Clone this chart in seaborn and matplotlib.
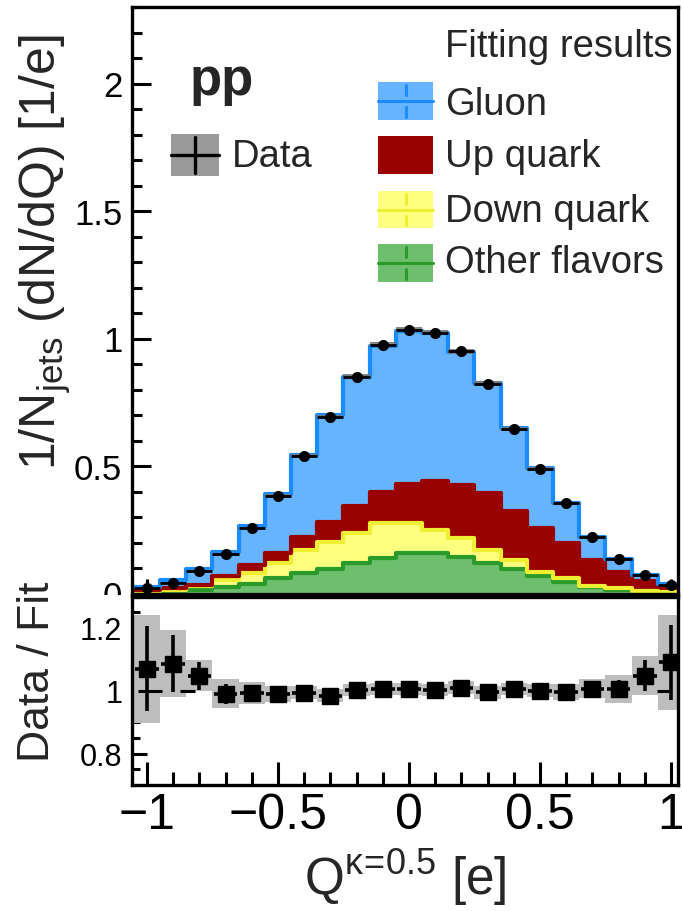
import numpy as np
import pandas as pd
import seaborn as sns
import matplotlib
matplotlib.use("Agg")
import matplotlib.pyplot as plt
from matplotlib.ticker import MultipleLocator, FuncFormatter
from matplotlib.patches import Rectangle
from matplotlib.transforms import Bbox, TransformedBbox

# ---------------- data ----------------
q_centers = [-1.0, -0.9, -0.8, -0.7, -0.6, -0.5, -0.4, -0.3, -0.2, -0.1, 0.0,
             0.1, 0.2, 0.3, 0.4, 0.5, 0.6, 0.7, 0.8, 0.9, 1.0]
bin_edges = [-1.05, -0.95, -0.85, -0.75, -0.65, -0.55, -0.45, -0.35, -0.25, -0.15, -0.05,
             0.05, 0.15, 0.25, 0.35, 0.45, 0.55, 0.65, 0.75, 0.85, 0.95, 1.05]

gluon = [0.012, 0.031, 0.063, 0.096, 0.154, 0.231, 0.321, 0.419, 0.508, 0.571, 0.600,
         0.582, 0.521, 0.432, 0.326, 0.235, 0.159, 0.092, 0.050, 0.023, 0.014]
up_quark = [0.004, 0.005, 0.007, 0.016, 0.030, 0.041, 0.053, 0.079, 0.106, 0.124, 0.154,
            0.193, 0.209, 0.225, 0.194, 0.173, 0.138, 0.099, 0.064, 0.038, 0.019]
down_quark = [0.003, 0.005, 0.016, 0.026, 0.041, 0.059, 0.090, 0.104, 0.118, 0.134, 0.115,
              0.091, 0.073, 0.051, 0.032, 0.017, 0.014, 0.006, 0.005, 0.002, 0.001]
other_flavors = [0.005, 0.010, 0.012, 0.025, 0.039, 0.059, 0.079, 0.098, 0.118, 0.141, 0.160,
                 0.157, 0.143, 0.118, 0.098, 0.067, 0.045, 0.025, 0.015, 0.008, 0.005]

data_vals = [0.020, 0.043, 0.090, 0.153, 0.256, 0.382, 0.540, 0.692, 0.850, 0.976, 1.035,
             1.023, 0.950, 0.823, 0.646, 0.488, 0.354, 0.220, 0.134, 0.071, 0.035]
data_stat = [0.002, 0.002, 0.002, 0.002, 0.002, 0.002, 0.002, 0.002, 0.002, 0.002, 0.002,
             0.002, 0.002, 0.002, 0.002, 0.002, 0.002, 0.002, 0.002, 0.002, 0.002]
data_syst = [0.002, 0.003, 0.004, 0.005, 0.006, 0.007, 0.008, 0.009, 0.010, 0.010, 0.010,
             0.010, 0.010, 0.009, 0.008, 0.007, 0.006, 0.005, 0.004, 0.003, 0.002]

ratio_vals = [1.070, 1.086, 1.048, 0.990, 0.994, 0.990, 0.994, 0.984, 1.003, 1.006, 1.006,
              1.003, 1.010, 0.995, 1.006, 1.000, 0.995, 1.006, 1.006, 1.048, 1.090]
ratio_stat = [0.135, 0.090, 0.045, 0.033, 0.020, 0.015, 0.012, 0.010, 0.010, 0.010, 0.010,
              0.010, 0.010, 0.010, 0.012, 0.015, 0.018, 0.020, 0.028, 0.050, 0.120]
ratio_syst = [0.172, 0.107, 0.050, 0.046, 0.035, 0.025, 0.020, 0.020, 0.020, 0.020, 0.020,
              0.020, 0.020, 0.020, 0.020, 0.020, 0.025, 0.030, 0.045, 0.063, 0.150]
unity_seg_lo = [-1.035, -0.874, 0.947]
unity_seg_hi = [-0.943, -0.817, 0.992]

flavors = ["Gluon", "Up quark", "Down quark", "Other flavors"]
fill_colors = {"Gluon": "#66b3ff", "Up quark": "#990000",
               "Down quark": "#ffff80", "Other flavors": "#6dbf6d"}
line_colors = {"Gluon": "#1a8cff", "Up quark": "#990000",
               "Down quark": "#eeee33", "Other flavors": "#2a9a2a"}

df = pd.DataFrame({
    "Q": q_centers * 4,
    "value": gluon + up_quark + down_quark + other_flavors,
    "flavor": sum([[f] * len(q_centers) for f in flavors], []),
})

q = np.array(q_centers)
dv = np.array(data_vals)
rv = np.array(ratio_vals)

# ---------------- style ----------------
sns.set_theme(style="ticks")
plt.rcParams["font.family"] = ["Liberation Sans", "DejaVu Sans"]
plt.rcParams["mathtext.fontset"] = "custom"
plt.rcParams["mathtext.rm"] = "Liberation Sans"
plt.rcParams["mathtext.it"] = "Liberation Sans:italic"
plt.rcParams["mathtext.bf"] = "Liberation Sans:bold"
plt.rcParams["axes.edgecolor"] = "black"
plt.rcParams["xtick.color"] = "black"
plt.rcParams["ytick.color"] = "black"

W, H = 682, 912
fig = plt.figure(figsize=(W / 100, H / 100), dpi=100)

def fbox(x0, y0, x1, y1):
    return [x0 / W, 1 - y1 / H, (x1 - x0) / W, (y1 - y0) / H]

ax = fig.add_axes(fbox(132, 8, 678, 594.5))
ax2 = fig.add_axes(fbox(132, 597.5, 678, 786))

# ---------------- main panel ----------------
sns.histplot(data=df, x="Q", weights="value", hue="flavor", hue_order=flavors,
             multiple="stack", bins=bin_edges, element="step", fill=True,
             alpha=1, linewidth=0, palette=fill_colors, legend=False, ax=ax)
sns.histplot(data=df, x="Q", weights="value", hue="flavor", hue_order=flavors,
             multiple="stack", bins=bin_edges, element="step", fill=False,
             linewidth=3.0, palette=line_colors, legend=False, ax=ax)

ax.bar(q, 2 * np.array(data_syst), bottom=dv - np.array(data_syst), width=0.1,
       color="#7a7a7a", alpha=0.9, linewidth=0, zorder=4)
ax.errorbar(q, dv, xerr=0.05, yerr=data_stat, fmt="o", ms=7, color="black",
            elinewidth=2.0, capsize=0, zorder=5)

ax.set_xlim(-1.057, 1.027)
ax.set_ylim(0, 2.3)
ax.set_xlabel("")
ax.set_ylabel("")

fmt = FuncFormatter(lambda v, p: ("%g" % round(v, 3)).replace("-", "\u2212"))

ax.xaxis.set_major_locator(MultipleLocator(0.5))
ax.xaxis.set_minor_locator(MultipleLocator(0.1))
ax.yaxis.set_major_locator(MultipleLocator(0.5))
ax.yaxis.set_minor_locator(MultipleLocator(0.1))
ax.yaxis.set_major_formatter(fmt)
ax.tick_params(axis="both", which="both", direction="in", top=False, right=False,
               width=2.2)
ax.tick_params(axis="x", which="major", length=11, labelbottom=False)
ax.tick_params(axis="x", which="minor", length=6)
ax.tick_params(axis="y", which="major", length=14, labelsize=25, pad=7)
ax.tick_params(axis="y", which="minor", length=7)

# ---------------- ratio panel ----------------
ax2.bar(q, 2 * np.array(ratio_syst), bottom=rv - np.array(ratio_syst), width=0.1,
        color="#bdbdbd", linewidth=0, zorder=1)
ax2.hlines(np.ones(len(unity_seg_lo)), unity_seg_lo, unity_seg_hi, color="black",
           lw=2.2, zorder=2)
ax2.errorbar(q, rv, xerr=0.045, yerr=ratio_stat, fmt="s", ms=11.5, color="black",
             elinewidth=2.6, capsize=0, zorder=3)
ax2.set_xlim(-1.057, 1.027)
ax2.set_ylim(0.7, 1.3)
ax2.xaxis.set_major_locator(MultipleLocator(0.5))
ax2.xaxis.set_minor_locator(MultipleLocator(0.1))
ax2.yaxis.set_major_locator(MultipleLocator(0.2))
ax2.yaxis.set_minor_locator(MultipleLocator(0.05))
ax2.xaxis.set_major_formatter(fmt)
ax2.yaxis.set_major_formatter(fmt)
ax2.tick_params(axis="both", which="both", direction="in", top=False, right=False,
                width=2.2)
ax2.tick_params(axis="x", which="major", length=16.5, labelsize=36, pad=5)
ax2.tick_params(axis="x", which="minor", length=9.5)
ax2.tick_params(axis="y", which="major", length=11, labelsize=22, pad=7)
ax2.tick_params(axis="y", which="minor", length=6)

for a in (ax, ax2):
    for s in a.spines.values():
        s.set_linewidth(2.4)
        s.set_color("black")
    a.grid(False)

# ---------------- texts ----------------
fig.text(45 / W, 1 - 35 / H, r"1/N$_{\mathregular{jets}}$ (dN/dQ) [1/e]",
         rotation=90, ha="center", va="top", fontsize=36)
fig.text(38 / W, 1 - 582 / H, "Data / Fit", rotation=90, ha="center", va="top",
         fontsize=32)
fig.text(405 / W, 1 - 908 / H,
         "Q$^{\\mathregular{\u03ba\\!=\\!0.5}}$ [e]",
         ha="center", va="bottom", fontsize=37)

# legend / annotations on an overlay in pixel units
ov = fig.add_axes([0, 0, 1, 1], zorder=10)
ov.set_xlim(0, W)
ov.set_ylim(H, 0)
ov.axis("off")
ov.patch.set_alpha(0)

ov.text(190, 95, "pp", fontsize=38, fontweight="bold", ha="left", va="baseline")

ov.add_patch(Rectangle((171, 135), 48, 42, facecolor="#9a9a9a", edgecolor="none"))
ov.plot([171, 219], [156, 156], color="black", lw=2.4)
ov.plot([195, 195], [138, 174], color="black", lw=2.4)
ov.text(232, 167, "Data", fontsize=27.5, ha="left", va="baseline")

ov.text(445, 57, "Fitting results", fontsize=27.5, ha="left", va="baseline")
rows = [(83, 121, 115), (137, 175, 167), (192, 229, 222), (245, 283, 273)]
for f, (y0, y1, base) in zip(flavors, rows):
    ov.add_patch(Rectangle((378, y0), 55, y1 - y0, facecolor=fill_colors[f],
                           edgecolor="none"))
    if f != "Up quark":
        ym = (y0 + y1) / 2
        ov.plot([378, 433], [ym, ym], color=line_colors[f], lw=2.2)
        ov.plot([405.5, 405.5], [y0 + 3, ym - 6], color=line_colors[f], lw=2.2)
        ov.plot([405.5, 405.5], [ym + 6, y1 - 3], color=line_colors[f], lw=2.2)
    ov.text(445, base, f, fontsize=27.5, ha="left", va="baseline")

# clip the main-panel "0" label at the ratio pad edge
fig.canvas.draw()
clip = TransformedBbox(Bbox.from_extents(0, 1 - 596 / H, 1, 1), fig.transFigure)
for t in ax.yaxis.get_major_ticks():
    if abs(t.get_loc()) < 1e-9:
        t.label1.set_clip_on(True)
        t.label1.set_clip_box(clip)

fig.savefig("out.png", dpi=100)
